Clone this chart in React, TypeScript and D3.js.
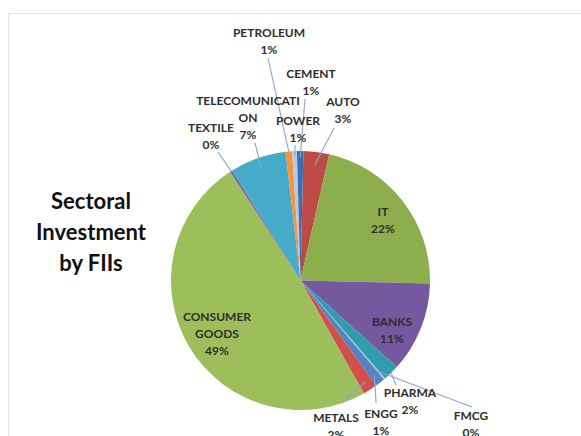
import React from "react";
import * as d3 from "d3";

const sectors = ["AUTO", "IT", "BANKS", "PHARMA", "FMCG", "ENGG", "METALS", "CONSUMER GOODS", "TEXTILE", "TELECOMUNICATION", "PETROLEUM", "POWER", "CEMENT"];
const shares = [3.2, 21.8, 11.3, 2.0, 0.2, 1.2, 1.8, 49.0, 0.3, 7.0, 0.8, 0.6, 0.8];
const sliceColors = ["#BD4A47", "#8DAE4D", "#7458A0", "#2F9DAC", "#A9BCD9", "#4F84C6", "#D24F4C", "#9DBF5B", "#8064A2", "#46AAC9", "#F39440", "#B9C7DF", "#3C6FB0"];
const labelLines: string[][] = [
  ["AUTO"], ["IT"], ["BANKS"], ["PHARMA"], ["FMCG"], ["ENGG"], ["METALS"],
  ["CONSUMER", "GOODS"], ["TEXTILE"], ["TELECOMUNICATI", "ON"], ["PETROLEUM"], ["POWER"], ["CEMENT"],
];
const titleLines = ["Sectoral", "Investment", "by FIIs"];

// layout (label placement, leader anchor)
const layout: { x: number; y: number; lx?: number; ly?: number; rf?: number }[] = [
  { x: 343, y: 102, lx: 334, ly: 128, rf: 0.9 },
  { x: 383, y: 212 },
  { x: 392, y: 322 },
  { x: 410, y: 393, lx: 396, ly: 385, rf: 1.0 },
  { x: 471, y: 416, lx: 472, ly: 407, rf: 0.92 },
  { x: 381, y: 414, lx: 376, ly: 403, rf: 0.93 },
  { x: 336, y: 418, lx: 343, ly: 402, rf: 0.93 },
  { x: 217, y: 317 },
  { x: 211, y: 128, lx: 218, ly: 152, rf: 1.0 },
  { x: 248, y: 101, lx: 255, ly: 143, rf: 0.92 },
  { x: 269, y: 33, lx: 268, ly: 58, rf: 1.0 },
  { x: 298, y: 121, lx: 295, ly: 145, rf: 0.97 },
  { x: 311, y: 74, lx: 305, ly: 99, rf: 0.95 },
];

export default function App() {
  const W = 581, H = 436;
  const cx = 300.5, cy = 280.5, R = 129.5;
  const start = (1.3 * Math.PI) / 180;
  const pie = d3.pie<number>().sort(null).value((d) => d).startAngle(start).endAngle(start + 2 * Math.PI);
  const arcs = pie(shares);
  const total = d3.sum(shares);
  const arc = d3.arc<d3.PieArcDatum<number>>().innerRadius(0).outerRadius(R);
  const lh = 17;
  return (
    <svg width={W} height={H} style={{ position: "absolute", left: 0, top: 0, background: "#fff" }}>
      <path d={`M8.5,${H} V13.5 H${W}`} fill="none" stroke="#e3e3e3" strokeWidth={1} />
      <g transform={`translate(${cx},${cy})`}>
        {arcs.map((a, i) => (
          <path key={i} d={arc(a) || ""} fill={sliceColors[i]} />
        ))}
      </g>
      {arcs.map((a, i) => {
        const L = layout[i];
        if (L.lx === undefined) return null;
        const mid = (a.startAngle + a.endAngle) / 2;
        const r = R * (L.rf ?? 1);
        const px = cx + r * Math.sin(mid);
        const py = cy - r * Math.cos(mid);
        return <line key={"l" + i} x1={L.lx} y1={L.ly} x2={px} y2={py} stroke="#8CA6CF" strokeWidth={1.1} />;
      })}
      {arcs.map((a, i) => {
        const L = layout[i];
        const pct = Math.round((shares[i] / total) * 100) + "%";
        const lines = [...labelLines[i], pct];
        return (
          <text key={"t" + i} textAnchor="middle" fontFamily="Lato, 'Open Sans', sans-serif" fontWeight={700} fontSize={12} fill="#2e2e2e">
            {lines.map((s, j) => (
              <tspan key={j} x={L.x} y={L.y + 4 + j * lh}>{s}</tspan>
            ))}
          </text>
        );
      })}
      <text textAnchor="middle" fontFamily="Lato, 'Open Sans', sans-serif" fontWeight={700} fontSize={22} fill="#111">
        {titleLines.map((s, j) => (
          <tspan key={j} x={91} y={209 + j * 31}>{s}</tspan>
        ))}
      </text>
    </svg>
  );
}
